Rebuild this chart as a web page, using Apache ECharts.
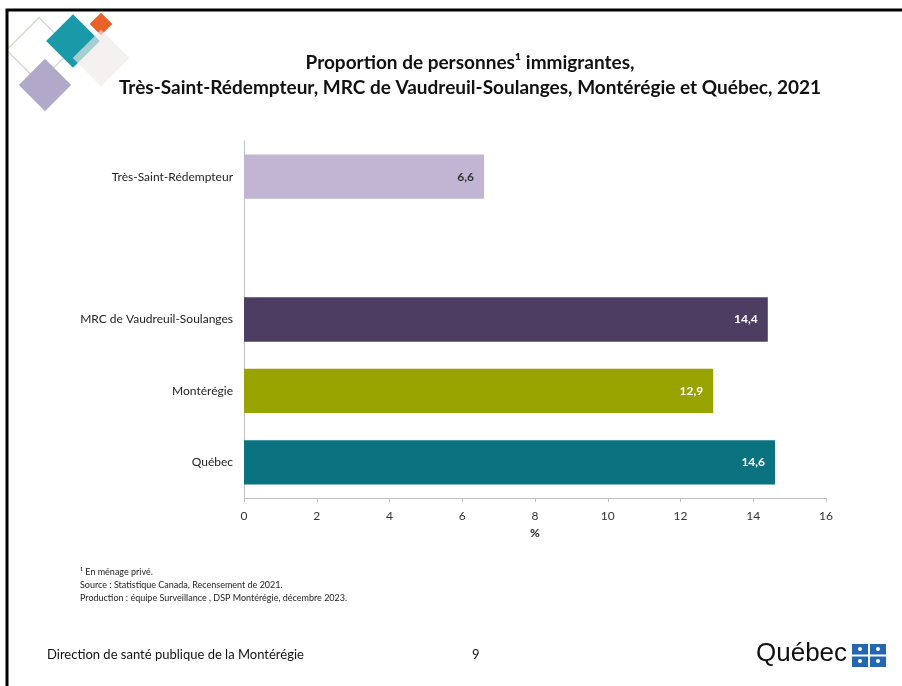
<!DOCTYPE html>
<html>
<head>
<meta charset="utf-8">
<script src="https://cdn.jsdelivr.net/npm/echarts@6/dist/echarts.min.js"></script>
<style>html,body{margin:0;padding:0;background:#fff}#c{width:902px;height:686px}</style>
</head>
<body>
<div id="c"></div>
<script>
const categories = ["Très-Saint-Rédempteur", "", "MRC de Vaudreuil-Soulanges", "Montérégie", "Québec"];
const values = [6.6, null, 14.4, 12.9, 14.6];
const barColors = ["#c2b4d3", "#ffffff", "#4e3d63", "#98a300", "#0b7380"];
const labelColors = ["#333333", "#333333", "#ffffff", "#ffffff", "#ffffff"];
const xTicks = [0, 2, 4, 6, 8, 10, 12, 14, 16];
const titleLines = ["Proportion de personnes¹ immigrantes,", "Très-Saint-Rédempteur, MRC de Vaudreuil-Soulanges, Montérégie et Québec, 2021"];
const footnotes = ["¹ En ménage privé.", "Source : Statistique Canada, Recensement de 2021.", "Production : équipe Surveillance , DSP Montérégie, décembre 2023."];
const footerLeft = "Direction de santé publique de la Montérégie";
const pageNumber = "9";

const chart = echarts.init(document.getElementById('c'), null, {renderer: 'canvas'});
const FONT = "Lato";

function diamond(cx, cy, side, style, z) {
  return {type: 'rect', x: cx, y: cy, rotation: Math.PI / 4,
    shape: {x: -side / 2, y: -side / 2, width: side, height: side}, style: style, z: z, silent: true};
}

const graphics = [
  {type: 'rect', shape: {x: 7, y: 10, width: 910, height: 700}, style: {fill: null, stroke: '#000', lineWidth: 3}, z: 100},
  diamond(39, 50, 46, {fill: null, stroke: '#d5dccf', lineWidth: 1.5}, 1),
  diamond(45, 85, 37, {fill: '#b2a8c9'}, 2),
  diamond(73, 41, 38, {fill: '#1a9aa9'}, 3),
  diamond(101, 24, 16, {fill: '#e8622a'}, 4),
  diamond(101, 58, 40, {fill: 'rgba(238,234,232,0.65)'}, 5),
  {type: 'text', x: 470, y: 53, style: {text: titleLines[0], font: 'bold 19px ' + FONT, fill: '#111', align: 'center', verticalAlign: 'top'}},
  {type: 'text', x: 470, y: 78, style: {text: titleLines[1], font: 'bold 19px ' + FONT, fill: '#111', align: 'center', verticalAlign: 'top'}},
  {type: 'text', x: 80, y: 566, style: {text: footnotes.join('\n'), font: '9px ' + FONT, fill: '#222', lineHeight: 13, verticalAlign: 'top'}},
  {type: 'text', x: 47, y: 648, style: {text: footerLeft, font: '13px ' + FONT, fill: '#111', verticalAlign: 'top'}},
  {type: 'text', x: 472, y: 648, style: {text: pageNumber, font: '13px ' + FONT, fill: '#111', verticalAlign: 'top'}},
  {type: 'text', x: 756, y: 641, style: {text: 'Québec', font: '26px "Liberation Sans"', fill: '#111', verticalAlign: 'top'}},
  {type: 'rect', shape: {x: 852, y: 644, width: 34, height: 23}, style: {fill: '#2467b0'}},
  {type: 'rect', shape: {x: 868, y: 644, width: 2, height: 23}, style: {fill: '#fff'}},
  {type: 'rect', shape: {x: 852, y: 654.5, width: 34, height: 2}, style: {fill: '#fff'}}
];
[[860, 649], [878, 649], [860, 661], [878, 661]].forEach(p => {
  graphics.push({type: 'circle', shape: {cx: p[0], cy: p[1], r: 2}, style: {fill: '#fff'}});
});

chart.setOption({
  animation: false,
  grid: {left: 244, right: 76, top: 141, bottom: 188, containLabel: false},
  xAxis: {
    type: 'value', min: 0, max: 16, interval: 2,
    name: '%', nameLocation: 'middle', nameGap: 28,
    nameTextStyle: {fontFamily: FONT, fontSize: 12, fontWeight: 'bold', color: '#222'},
    axisLine: {show: true, lineStyle: {color: '#bfbfbf'}},
    axisTick: {show: true, length: 4, lineStyle: {color: '#bfbfbf'}},
    axisLabel: {fontFamily: FONT, fontSize: 12, color: '#333', margin: 12,
      formatter: v => xTicks.includes(v) ? String(v) : ''},
    splitLine: {show: false}
  },
  yAxis: {
    type: 'category', data: categories, inverse: true,
    axisLine: {show: true, lineStyle: {color: '#bfbfbf'}},
    axisTick: {show: false},
    axisLabel: {fontFamily: FONT, fontSize: 12, color: '#222', margin: 11}
  },
  series: [{
    type: 'bar', barCategoryGap: '38%',
    data: values.map((v, i) => ({value: v, itemStyle: {color: barColors[i]},
      label: {color: labelColors[i]}})),
    label: {show: true, position: 'insideRight', distance: 10, fontFamily: FONT, fontSize: 12, fontWeight: 'bold',
      formatter: p => p.value == null ? '' : p.value.toFixed(1).replace('.', ',')}
  }],
  graphic: graphics
});
</script>
</body>
</html>
